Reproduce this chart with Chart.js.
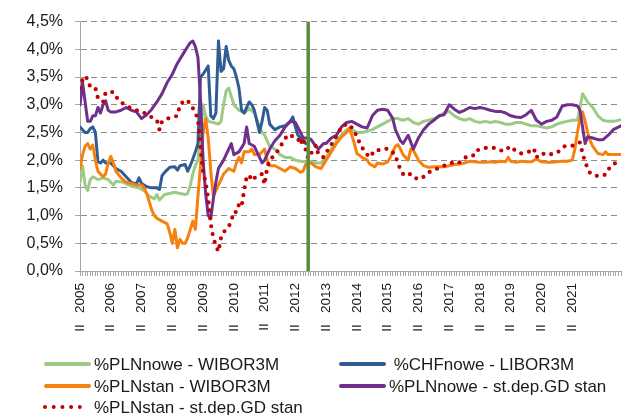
<!DOCTYPE html>
<html>
<head>
<meta charset="utf-8">
<script src="https://cdn.jsdelivr.net/npm/chart.js@4"></script>
<style>
  body { margin: 0; background: #fff; }
  canvas { display: block; }
</style>
</head>
<body>
<canvas id="spreadChart" width="624" height="415"></canvas>
<script>
  // Months counted from II 2005 (0 = II 2005, 12 = II 2006, ...)
  const lastMonth = 211;
  const markerMonth = 89;

  // Tick labels, one per year
  const yearLabels = ["II 2005", "II 2006", "II 2007", "II 2008", "II 2009", "II 2010", "II 2011", "II 2012",
    "II 2013", "II 2014", "II 2015", "II 2016", "II 2017", "II 2018", "II 2019", "II 2020", "II 2021"];

  // Series names
  const seriesNames = ["%PLNnowe - WIBOR3M", " %CHFnowe - LIBOR3M", "%PLNstan - WIBOR3M",
    "%PLNnowe - st.dep.GD stan", "%PLNstan - st.dep.GD stan"];

  // [month, %]
  const plnNoweWibor = [[0,1.6],[1,1.9],[2,1.55],[3,1.45],[4,1.65],[5,1.7],[7,1.65],[9,1.68],[11,1.65],[12,1.6],
    [13,1.55],[14,1.62],[17,1.6],[19,1.55],[21,1.52],[23,1.5],[25,1.45],[26,1.4],[27,1.35],[29,1.3],[30,1.38],
    [31,1.28],[33,1.38],[35,1.4],[37,1.42],[39,1.4],[41,1.38],[42,1.4],[43,1.55],[44,1.75],[45,1.9],[46,2.0],
    [47,2.45],[48,3.0],[49,2.8],[50,2.7],[52,2.68],[54,2.65],[55,2.7],[56,3.0],[57,3.25],[58,3.3],[59,3.15],
    [60,3.0],[62,2.9],[64,2.85],[66,2.93],[68,2.85],[70,2.6],[71,2.5],[72,2.45],[74,2.25],[76,2.2],[78,2.1],
    [80,2.05],[82,2.05],[84,2.0],[86,1.98],[88,1.97],[90,1.97],[92,1.95],[94,1.95],[96,2.05],[98,2.2],[100,2.35],
    [102,2.45],[104,2.55],[106,2.55],[108,2.5],[110,2.5],[112,2.52],[114,2.55],[116,2.6],[118,2.65],[120,2.7],
    [122,2.75],[124,2.75],[126,2.72],[128,2.75],[130,2.68],[132,2.65],[134,2.7],[136,2.72],[138,2.75],[140,2.78],
    [142,2.85],[144,2.88],[146,2.8],[148,2.75],[150,2.72],[152,2.75],[154,2.7],[156,2.68],[158,2.7],[160,2.68],
    [162,2.7],[164,2.68],[166,2.65],[168,2.65],[170,2.68],[172,2.68],[174,2.65],[176,2.62],[178,2.62],[180,2.6],
    [182,2.58],[184,2.6],[186,2.65],[188,2.68],[190,2.7],[192,2.72],[194,2.72],[195,2.95],[196,3.2],[198,3.05],
    [200,2.95],[202,2.8],[204,2.72],[206,2.7],[208,2.7],[211,2.73]];

  const chfNoweLibor = [[0,2.6],[1,2.55],[2,2.5],[3,2.5],[4,2.57],[5,2.6],[6,2.5],[7,1.97],[8,1.95],[9,2.0],
    [10,1.95],[12,1.95],[14,1.85],[16,1.8],[18,1.7],[20,1.6],[22,1.57],[23,1.68],[24,1.58],[26,1.52],[28,1.5],
    [30,1.5],[31,1.47],[32,1.72],[33,1.78],[35,1.87],[37,1.88],[38,1.82],[39,1.9],[41,1.92],[42,1.8],[43,1.9],
    [44,2.02],[45,2.15],[46,2.3],[47,3.5],[48,3.55],[50,3.7],[51,2.8],[52,2.75],[53,2.85],[54,4.15],[55,3.6],
    [56,3.65],[57,4.05],[58,3.8],[59,3.7],[60,3.65],[61,3.5],[62,3.3],[63,2.9],[64,2.85],[65,2.95],[66,3.05],
    [67,3.0],[68,2.9],[69,2.7],[70,2.5],[71,2.7],[72,2.95],[73,2.9],[74,2.65],[75,2.6],[76,2.55],[78,2.6],
    [80,2.62],[82,2.7],[83,2.78],[84,2.6],[85,2.45],[86,2.4],[87,2.35],[88,2.3]];

  const plnStanWibor = [[0,1.85],[1,2.1],[2,2.25],[3,2.3],[4,2.2],[5,2.27],[6,2.0],[7,1.8],[8,1.75],[9,1.7],
    [10,1.75],[11,1.95],[12,2.07],[13,1.95],[14,1.8],[16,1.68],[18,1.6],[20,1.58],[22,1.55],[24,1.55],[25,1.5],
    [26,1.4],[27,1.25],[28,1.1],[29,1.0],[30,0.95],[32,0.9],[34,0.85],[35,0.7],[36,0.5],[37,0.75],[38,0.42],
    [39,0.57],[40,0.5],[41,0.5],[42,0.6],[43,0.75],[44,0.9],[45,0.75],[46,1.35],[47,1.9],[48,2.5],[49,2.75],
    [50,2.4],[51,1.8],[52,1.35],[53,1.45],[54,1.55],[56,1.75],[58,1.85],[60,1.8],[61,1.95],[62,2.05],[63,1.95],
    [64,2.15],[66,2.15],[67,2.2],[68,2.1],[70,2.1],[72,2.2],[73,2.0],[74,1.9],[76,1.9],[78,1.85],[80,1.8],
    [82,1.88],[84,1.85],[86,1.78],[87,1.8],[88,1.92],[90,1.95],[92,1.88],[94,1.85],[96,2.0],[98,2.15],[100,2.3],
    [102,2.42],[104,2.5],[105,2.58],[106,2.45],[107,2.3],[108,2.12],[110,2.05],[112,2.0],[113,1.93],[115,1.88],
    [116,1.95],[118,1.93],[120,1.97],[121,2.05],[123,2.25],[124,2.28],[125,2.2],[126,2.1],[128,2.0],[129,2.2],
    [130,2.18],[132,2.0],[134,1.9],[136,1.87],[138,1.88],[140,1.88],[142,1.88],[144,1.9],[146,1.92],[148,1.93],
    [150,1.95],[152,1.98],[154,1.97],[156,1.96],[158,1.96],[160,1.97],[162,1.96],[164,1.98],[166,1.97],[167,2.05],
    [168,1.98],[170,1.96],[172,1.98],[174,1.97],[176,1.97],[178,2.02],[180,1.97],[182,1.96],[184,1.96],[186,1.97],
    [188,1.98],[190,1.98],[192,2.0],[193,2.2],[194,2.5],[195,2.75],[196,2.87],[197,2.7],[198,2.5],[199,2.35],
    [200,2.25],[202,2.12],[204,2.1],[205,2.15],[206,2.1],[208,2.1],[211,2.1]];

  const plnNoweDep = [[0,3.0],[1,3.4],[2,3.05],[3,2.7],[4,2.7],[5,2.8],[6,2.8],[7,2.95],[8,2.85],[9,3.0],
    [10,3.07],[11,2.9],[12,2.87],[14,2.87],[16,2.9],[18,2.95],[20,2.9],[22,2.87],[24,2.75],[26,2.82],[28,2.92],
    [30,3.05],[32,3.2],[34,3.4],[36,3.55],[38,3.75],[40,3.9],[42,4.05],[43,4.12],[44,4.15],[45,4.05],[46,3.85],
    [47,3.1],[48,2.0],[49,1.4],[50,1.0],[51,0.95],[52,1.3],[53,1.6],[54,1.85],[56,2.0],[58,2.2],[59,2.3],
    [60,2.1],[62,2.15],[64,2.3],[65,2.6],[66,2.3],[68,2.25],[70,2.05],[71,1.95],[72,2.0],[74,2.2],[76,2.35],
    [78,2.45],[80,2.6],[82,2.7],[84,2.68],[86,2.5],[87,2.4],[88,2.4],[90,2.38],[92,2.25],[93,2.2],[95,2.3],
    [96,2.3],[98,2.4],[100,2.45],[102,2.6],[104,2.68],[106,2.7],[108,2.65],[110,2.6],[112,2.58],[114,2.8],
    [116,2.9],[118,2.92],[120,2.9],[122,2.75],[123,2.55],[125,2.35],[126,2.3],[128,2.45],[130,2.2],[132,2.4],
    [134,2.55],[136,2.65],[138,2.72],[140,2.8],[142,2.82],[144,3.0],[146,2.92],[148,2.86],[150,2.9],[152,2.95],
    [154,2.93],[156,2.95],[158,2.93],[160,2.9],[162,2.88],[164,2.88],[166,2.85],[168,2.8],[170,2.78],[172,2.77],
    [174,2.82],[176,2.9],[178,2.72],[180,2.65],[182,2.7],[184,2.72],[186,2.78],[188,2.97],[190,3.0],[192,3.0],
    [194,2.98],[195,2.9],[197,2.3],[198,2.42],[200,2.4],[202,2.37],[204,2.37],[206,2.45],[208,2.55],[211,2.62]];

  const plnStanDep = [[0,3.3],[1,3.45],[2,3.52],[3,3.45],[4,3.32],[6,3.3],[7,3.12],[9,3.05],[10,3.22],[13,3.23],
    [15,3.08],[18,2.98],[22,2.9],[24,2.88],[27,2.8],[30,2.72],[31,2.55],[32,2.7],[34,2.75],[36,2.77],[38,2.8],
    [39,3.0],[41,3.09],[43,3.03],[44,2.94],[46,2.75],[47,2.2],[48,1.8],[49,1.6],[50,1.3],[51,0.85],[52,0.6],
    [53,0.45],[54,0.35],[55,0.6],[56,0.7],[58,0.8],[59,0.9],[60,1.07],[61,1.06],[62,1.2],[63,1.16],[64,1.45],
    [65,1.7],[66,1.73],[67,1.63],[69,1.72],[71,1.75],[72,1.56],[73,1.87],[74,2.0],[76,2.1],[77,2.16],[79,2.31],
    [81,2.46],[83,2.43],[85,2.39],[86,2.28],[87,2.4],[88,2.19],[89,2.03],[92,2.27],[93,2.1],[95,2.05],[97,2.21],
    [99,2.35],[100,2.43],[102,2.6],[104,2.65],[105,2.65],[107,2.52],[109,2.32],[111,2.15],[113,2.05],[115,2.18],
    [117,2.18],[120,2.21],[123,2.1],[124,1.93],[126,1.75],[128,1.78],[130,1.68],[133,1.66],[136,1.78],[140,1.86],
    [142,1.9],[145,1.95],[146,1.93],[148,1.96],[151,2.07],[154,2.09],[155,2.18],[158,2.22],[162,2.22],[165,2.16],
    [168,2.25],[170,2.16],[172,2.12],[175,2.15],[177,2.21],[178,2.05],[180,2.13],[182,2.09],[186,2.13],[189,2.25],
    [192,2.26],[195,2.32],[196,2.13],[197,1.96],[199,1.76],[202,1.71],[205,1.74],[207,1.9],[211,2.0]];

  const seriesColors = ["#9dcb86", "#2f5d93", "#f7810f", "#702f8a", "#c50000"];

  const FONT = '"Liberation Sans", Arial, sans-serif';

  const toPoints = arr => arr.map(([m, v]) => ({ x: m, y: v }));

  function lineSet(i, arr, extra) {
    return Object.assign({
      label: seriesNames[i],
      data: toPoints(arr),
      borderColor: seriesColors[i],
      backgroundColor: seriesColors[i],
      borderWidth: 3,
      pointRadius: 0,
      tension: 0,
      fill: false,
      borderJoinStyle: "round",
      borderCapStyle: "round",
      order: 5 - i
    }, extra || {});
  }

  // Green vertical marker line
  const markerLine = {
    id: "markerLine",
    afterDatasetsDraw(chart) {
      const { ctx, chartArea, scales } = chart;
      const x = scales.x.getPixelForValue(markerMonth);
      ctx.save();
      ctx.strokeStyle = "#5b8c3a";
      ctx.lineWidth = 3.5;
      ctx.beginPath();
      ctx.moveTo(x, chartArea.top);
      ctx.lineTo(x, chartArea.bottom);
      ctx.stroke();
      ctx.restore();
    }
  };

  // Legend in two columns under the chart
  const legendSpots = [[44, 364], [339, 364], [44, 386], [339, 386], [44, 407]];
  const twoColLegend = {
    id: "twoColLegend",
    afterDraw(chart) {
      const ctx = chart.ctx;
      chart.data.datasets.forEach((ds, i) => {
        const [x, y] = legendSpots[i];
        ctx.save();
        ctx.strokeStyle = ds.borderColor;
        ctx.lineWidth = 4;
        ctx.lineCap = "round";
        ctx.beginPath();
        if (ds.borderDash) {
          ctx.setLineDash([0, 8.7]);
          ctx.moveTo(x + 1, y);
          ctx.lineTo(x + 37, y);
        } else {
          ctx.moveTo(x + 2, y);
          ctx.lineTo(x + 45, y);
        }
        ctx.stroke();
        ctx.fillStyle = "#1a1a1a";
        ctx.font = "17px " + FONT;
        ctx.textBaseline = "middle";
        ctx.fillText(ds.label, x + 50, y + 1);
        ctx.restore();
      });
    }
  };

  const ctx = document.getElementById("spreadChart").getContext("2d");
  const chart = new Chart(ctx, {
    type: "line",
    data: {
      datasets: [
        lineSet(0, plnNoweWibor),
        lineSet(1, chfNoweLibor),
        lineSet(2, plnStanWibor),
        lineSet(3, plnNoweDep),
        lineSet(4, plnStanDep, { borderWidth: 4.2, borderDash: [0, 8] })
      ]
    },
    options: {
      responsive: false,
      animation: false,
      layout: { padding: { top: 18, right: 3, left: 0, bottom: 0 } },
      plugins: {
        legend: { display: false },
        tooltip: { enabled: false }
      },
      scales: {
        x: {
          type: "linear",
          min: 0,
          max: lastMonth,
          afterBuildTicks: scale => {
            const ticks = [];
            for (let m = 0; m <= lastMonth; m++) ticks.push({ value: m });
            scale.ticks = ticks;
          },
          afterFit: scale => {
            scale.height = 144;
            // rotated labels would otherwise shrink the plot on the right
            scale.paddingRight = 0;
            scale.paddingLeft = 0;
          },
          grid: { drawOnChartArea: false, tickLength: 5, color: "#a6a6a6" },
          border: { color: "#a6a6a6", width: 1 },
          ticks: {
            autoSkip: false,
            minRotation: 90,
            maxRotation: 90,
            padding: 7,
            color: "#1a1a1a",
            font: { family: FONT, size: 13.5 },
            callback: v => (v % 12 === 0 && yearLabels[v / 12]) ? yearLabels[v / 12].replace(" ", "   ") : ""
          }
        },
        y: {
          min: 0,
          max: 4.5,
          afterFit: scale => { scale.width = 80; },
          grid: { color: "#8c8c8c", lineWidth: 1, tickLength: 5, tickColor: "#a6a6a6", tickBorderDash: [] },
          border: { color: "#a6a6a6", width: 1, dash: [6, 4] },
          ticks: {
            stepSize: 0.5,
            padding: 12,
            color: "#1a1a1a",
            font: { family: FONT, size: 16 },
            callback: v => v.toFixed(1).replace(".", ",") + "%"
          }
        }
      }
    },
    plugins: [markerLine, twoColLegend]
  });
</script>
</body>
</html>
